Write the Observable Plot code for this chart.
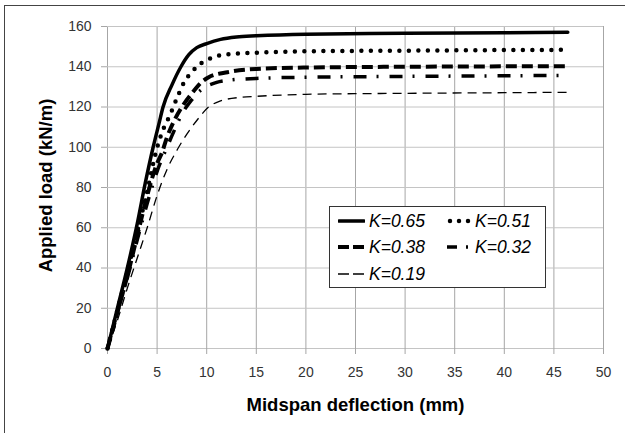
<!DOCTYPE html>
<html>
<head>
<meta charset="utf-8">
<script src="https://cdn.jsdelivr.net/npm/d3@7"></script>
<script src="https://cdn.jsdelivr.net/npm/@observablehq/plot@0.6"></script>
<style>
  html, body { margin: 0; padding: 0; background: #fff; }
  #wrap { position: relative; width: 625px; height: 433px; overflow: hidden; font-family: "Liberation Sans", Arial, sans-serif; }
  #frame { position: absolute; left: 4px; top: 5px; right: -10px; bottom: -10px; border-left: 1.5px solid #444; border-top: 1.5px solid #444; pointer-events: none; }
  #legend { position: absolute; left: 329px; top: 206px; width: 215px; height: 80px; border: 1px solid #333; background: #fff; }
  .item { position: absolute; height: 24px; display: flex; align-items: center; font-style: italic; font-size: 17.5px; color: #000; }
  .item svg { display: block; margin-right: 4px; }
</style>
</head>
<body>
<div id="wrap">
  <div id="chart"></div>
  <div id="frame"></div>
  <div id="legend"></div>
</div>
<script>
// Tick values
const xTicks = [0, 5, 10, 15, 20, 25, 30, 35, 40, 45, 50];
const yTicks = [0, 20, 40, 60, 80, 100, 120, 140, 160];

// Series labels
const seriesLabels = ["K=0.65", "K=0.51", "K=0.38", "K=0.32", "K=0.19"];

// Midspan deflection (mm) and applied load (kN/m) for each series
const k065Deflection = [0, 1, 2, 3, 3.8, 4.6, 5.2, 5.6, 6.5, 7.4, 8.2, 9, 10, 11.4, 13, 15, 20, 30, 40, 46.4];
const k065Load       = [0, 20, 40, 62, 82, 100, 112, 120, 131, 140, 146, 149.5, 151.5, 153.6, 154.8, 155.4, 156.2, 156.6, 156.9, 157.1];

const k051Deflection = [0, 1, 2, 3, 4, 4.9, 5.5, 6.3, 7.05, 7.8, 8.45, 9.1, 9.9, 10.7, 12.6, 15, 20, 30, 40, 46.4];
const k051Load       = [0, 19, 38, 58, 78, 98, 107.5, 116, 125, 133, 137, 140.6, 143, 144.8, 146.4, 147, 147.7, 148, 148.3, 148.4];

const k038Deflection = [0, 1, 2, 3, 4, 5, 5.5, 6, 6.7, 7.5, 8.7, 9.4, 10.2, 12.1, 15, 20, 30, 40, 46.4];
const k038Load       = [0, 18, 36, 56, 76, 92, 97.5, 105, 113, 120, 128, 132, 134.8, 137.3, 138.9, 139.6, 140, 140.2, 140.3];

const k032Deflection = [0, 1, 2, 3, 4, 5, 6, 6.7, 7.5, 8.4, 9.55, 11, 12.4, 15, 20, 30, 40, 46.4];
const k032Load       = [0, 18, 35, 54, 72, 88, 100, 108, 116.5, 123, 129, 132.2, 133.4, 134.2, 134.8, 135.2, 135.5, 135.7];

const k019Deflection = [0, 1, 2, 3, 4, 5, 6, 7, 8, 9, 10.2, 11.4, 13.4, 15, 20, 30, 40, 46.4];
const k019Load       = [0, 14, 30, 45, 60, 76, 89, 98.5, 106.5, 113.3, 120, 123, 124.8, 125.3, 126.3, 126.8, 127.1, 127.3];

const seriesX = [k065Deflection, k051Deflection, k038Deflection, k032Deflection, k019Deflection];
const seriesY = [k065Load, k051Load, k038Load, k032Load, k019Load];

// Line styles (not data)
const styles = [
  {strokeWidth: 3.5, strokeDasharray: null, strokeLinecap: "round"},
  {strokeWidth: 4.5, strokeDasharray: "0 9.5", strokeLinecap: "round"},
  {strokeWidth: 4, strokeDasharray: "11 5", strokeLinecap: "butt"},
  {strokeWidth: 3.5, strokeDasharray: "13 10 2 11", strokeLinecap: "butt"},
  {strokeWidth: 1.3, strokeDasharray: "9 6", strokeLinecap: "butt"}
];

const tables = seriesLabels.map((k, i) => seriesX[i].map((x, j) => ({k, x, y: seriesY[i][j]})));

const lineMarks = tables.map((t, i) => Plot.line(t, {
  x: "x", y: "y", stroke: "#000", curve: "monotone-x",
  strokeWidth: styles[i].strokeWidth,
  strokeDasharray: styles[i].strokeDasharray,
  strokeLinecap: styles[i].strokeLinecap,
  strokeLinejoin: "round"
}));

const chart = Plot.plot({
  width: 625, height: 433,
  marginLeft: 107, marginRight: 22, marginTop: 26, marginBottom: 85,
  style: {fontFamily: '"Liberation Sans", Arial, sans-serif', fontSize: "14px", background: "transparent", color: "#333"},
  x: {domain: [0, 50]},
  y: {domain: [0, 160]},
  marks: [
    Plot.gridX(xTicks, {stroke: "#a6a6a6", strokeOpacity: 1}),
    Plot.gridY(yTicks, {stroke: "#c4c4c4", strokeOpacity: 1}),
    Plot.axisX(xTicks, {tickSize: 6, tickPadding: 13, stroke: "#a6a6a6", fill: "#333", label: null, fontSize: 14}),
    Plot.axisY(yTicks, {tickSize: 6, tickPadding: 10, stroke: "#a6a6a6", fill: "#333", label: null, fontSize: 14}),
    ...lineMarks,
    Plot.text(["Midspan deflection (mm)"], {text: d => d, frameAnchor: "bottom", dy: 57, fontWeight: "bold", fontSize: 18.5, fill: "#000", lineAnchor: "middle", textAnchor: "middle"}),
    Plot.text(["Applied load (kN/m)"], {text: d => d, frameAnchor: "left", dx: -61, dy: -2, rotate: -90, fontWeight: "bold", fontSize: 18.5, fill: "#000", lineAnchor: "middle", textAnchor: "middle"})
  ]
});
document.getElementById("chart").appendChild(chart);

// Legend
const legend = document.getElementById("legend");
const positions = [[8, 2], [117, 2], [8, 28], [117, 28], [8, 55]];
const sampleW = [27, 24, 27, 24, 27];
seriesLabels.forEach((k, i) => {
  const item = document.createElement("div");
  item.className = "item";
  item.style.left = positions[i][0] + "px";
  item.style.top = positions[i][1] + "px";
  const ns = "http://www.w3.org/2000/svg";
  const svg = document.createElementNS(ns, "svg");
  svg.setAttribute("width", sampleW[i]);
  svg.setAttribute("height", 10);
  const ln = document.createElementNS(ns, "line");
  const s = styles[i];
  let x1 = 1, x2 = sampleW[i] - 1, dash = s.strokeDasharray;
  if (i === 1) { x1 = 3; x2 = sampleW[i] - 2; dash = "0 9"; }
  if (i === 2) { dash = "11 4"; x1 = 0; x2 = 26; }
  if (i === 3) { dash = "10 9 2 30"; x1 = 0; }
  if (i === 4) { dash = "11 4"; x1 = 0; x2 = 26; }
  ln.setAttribute("x1", x1); ln.setAttribute("x2", x2);
  ln.setAttribute("y1", 5); ln.setAttribute("y2", 5);
  ln.setAttribute("stroke", "#000");
  ln.setAttribute("stroke-width", s.strokeWidth);
  if (dash) ln.setAttribute("stroke-dasharray", dash);
  ln.setAttribute("stroke-linecap", s.strokeLinecap);
  svg.appendChild(ln);
  item.appendChild(svg);
  const span = document.createElement("span");
  span.textContent = k;
  item.appendChild(span);
  legend.appendChild(item);
});
</script>
</body>
</html>
